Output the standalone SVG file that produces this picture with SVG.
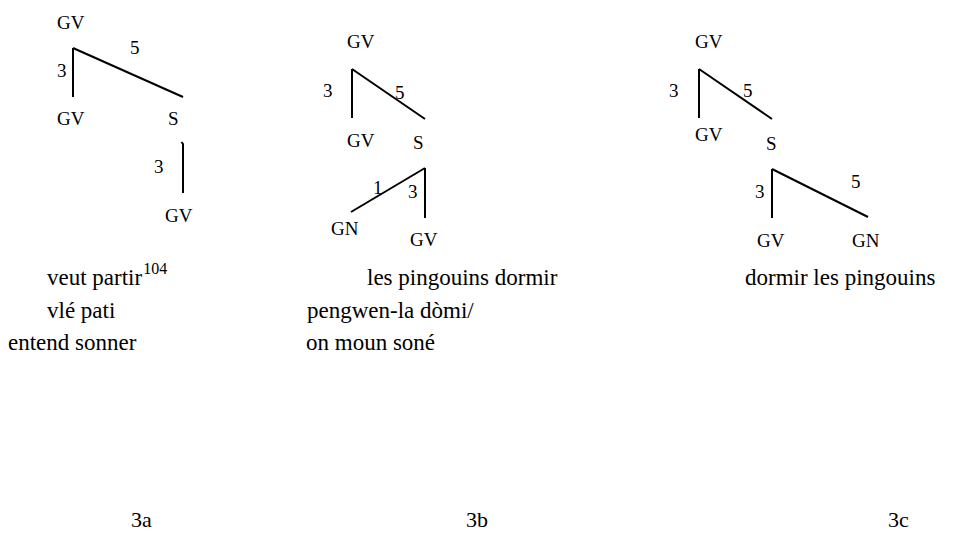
<svg xmlns="http://www.w3.org/2000/svg" width="967" height="537" viewBox="0 0 967 537">
<style>
.n{font-size:19px}
.t{font-size:23px}
.sup{font-size:16px}
.lab{font-size:22px}
.e{stroke:#000;stroke-width:2;fill:none}
</style>
<rect width="967" height="537" fill="#fff"/>
<g id="connectors">
<line class="e" x1="73" y1="48" x2="73" y2="97"/>
<line class="e" x1="73" y1="48" x2="183" y2="97"/>
<path class="e" d="M181.5,142 L183,144 L183,193"/>
<line class="e" x1="352" y1="69" x2="352" y2="118"/>
<line class="e" x1="352" y1="69" x2="425" y2="119"/>
<line class="e" x1="425" y1="168" x2="425" y2="218"/>
<line class="e" x1="425" y1="168" x2="351" y2="212"/>
<line class="e" x1="699" y1="69" x2="699" y2="118"/>
<line class="e" x1="699" y1="69" x2="772" y2="119"/>
<line class="e" x1="772" y1="169" x2="772" y2="218"/>
<line class="e" x1="772" y1="169" x2="868" y2="217"/>
</g>
<g font-family="'Liberation Serif', 'Times New Roman', serif" fill="#000">
<g id="tree3a">
<g id="a-gv1"><text class="n" x="57" y="29">GV</text></g>
<text class="n" x="57" y="77">3</text>
<text class="n" x="130" y="54">5</text>
<g id="a-gv2"><text class="n" x="57" y="125">GV</text></g>
<g id="a-s"><text class="n" x="168" y="125">S</text></g>
<text class="n" x="154" y="173">3</text>
<g id="a-gv3"><text class="n" x="165" y="222">GV</text></g>
</g>
<g id="tree3b">
<g id="b-gv1"><text class="n" x="347" y="48">GV</text></g>
<text class="n" x="323" y="97">3</text>
<text class="n" x="395" y="99">5</text>
<g id="b-gv2"><text class="n" x="347" y="147">GV</text></g>
<g id="b-s"><text class="n" x="413" y="149">S</text></g>
<text class="n" x="373" y="194">1</text>
<text class="n" x="408" y="198">3</text>
<g id="b-gn"><text class="n" x="331" y="235">GN</text></g>
<g id="b-gv3"><text class="n" x="410" y="246">GV</text></g>
</g>
<g id="tree3c">
<g id="c-gv1"><text class="n" x="695" y="48">GV</text></g>
<text class="n" x="669" y="97">3</text>
<text class="n" x="743" y="97">5</text>
<g id="c-gv2"><text class="n" x="695" y="141">GV</text></g>
<g id="c-s"><text class="n" x="766" y="150">S</text></g>
<text class="n" x="755" y="198">3</text>
<text class="n" x="851" y="188">5</text>
<g id="c-gv3"><text class="n" x="757" y="247">GV</text></g>
<g id="c-gn"><text class="n" x="852" y="247">GN</text></g>
</g>
<g id="texts">
<text class="t" x="47" y="285">veut partir<tspan class="sup" dx="1" dy="-11">104</tspan></text>
<text class="t" x="367" y="285">les pingouins dormir</text>
<text class="t" x="745" y="285">dormir les pingouins</text>
<text class="t" x="47" y="318">vlé pati</text>
<text class="t" x="307" y="318">pengwen-la dòmi/</text>
<text class="t" x="8" y="350">entend sonner</text>
<text class="t" x="306" y="350">on moun soné</text>
<text class="lab" x="131" y="527">3a</text>
<text class="lab" x="466" y="527">3b</text>
<text class="lab" x="888" y="527">3c</text>
</g>
</g>
</svg>
